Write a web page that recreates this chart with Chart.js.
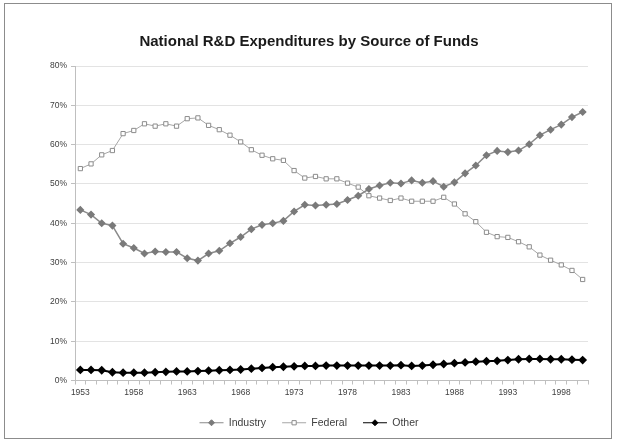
<!DOCTYPE html>
<html>
<head>
<meta charset="utf-8">
<script src="https://cdn.jsdelivr.net/npm/chart.js@4"></script>
<style>
  body { margin: 0; background: #fff; }
  #frame {
    position: absolute; left: 4px; top: 3px;
    width: 606px; height: 434px;
    border: 1px solid #8c8c8c;
  }
</style>
</head>
<body>
<div id="frame"><canvas id="chart" width="606" height="434"></canvas></div>
<script>
// 연도 (1953 ~ 2000)
const years = [];
for (let y = 1953; y <= 2000; y++) years.push(String(y));

// 재원별 비율 (%)
const industry = [
  43.4, 42.2, 40.0, 39.4, 34.8, 33.7, 32.3, 32.8, 32.7, 32.7,
  31.1, 30.5, 32.3, 33.0, 34.9, 36.5, 38.5, 39.6, 40.0, 40.6,
  43.0, 44.7, 44.5, 44.7, 44.9, 45.9, 47.0, 48.7, 49.6, 50.3,
  50.1, 50.9, 50.3, 50.7, 49.3, 50.4, 52.7, 54.7, 57.3, 58.4,
  58.1, 58.5, 60.1, 62.4, 63.8, 65.1, 67.0, 68.3
];
const federal = [
  53.9, 55.1, 57.4, 58.5, 62.8, 63.6, 65.3, 64.7, 65.3, 64.7,
  66.6, 66.8, 64.9, 63.8, 62.4, 60.7, 58.7, 57.3, 56.4, 56.0,
  53.4, 51.5, 51.9, 51.3, 51.3, 50.2, 49.2, 47.0, 46.4, 45.8,
  46.4, 45.6, 45.6, 45.6, 46.6, 44.9, 42.4, 40.4, 37.7, 36.6,
  36.4, 35.3, 34.0, 31.9, 30.6, 29.4, 28.0, 25.7
];
const other = [
  2.7, 2.7, 2.6, 2.1, 2.0, 2.0, 2.0, 2.1, 2.2, 2.3,
  2.3, 2.4, 2.5, 2.6, 2.7, 2.8, 3.0, 3.2, 3.4, 3.5,
  3.6, 3.7, 3.7, 3.8, 3.8, 3.8, 3.8, 3.8, 3.8, 3.8,
  3.9, 3.7, 3.8, 4.0, 4.2, 4.4, 4.6, 4.8, 4.9, 5.0,
  5.2, 5.4, 5.5, 5.5, 5.4, 5.4, 5.3, 5.2
];

// 범례에 선 가운데 마커 그리기
const legendMarkers = {
  id: "legendMarkers",
  afterDraw(chart) {
    const legend = chart.legend;
    if (!legend || !legend.legendHitBoxes) return;
    const ctx = chart.ctx;
    legend.legendHitBoxes.forEach((box, i) => {
      const ds = chart.data.datasets[i];
      const cx = box.left + 12;
      const cy = box.top + box.height / 2;
      ctx.save();
      ctx.fillStyle = ds.pointBackgroundColor;
      ctx.strokeStyle = ds.pointBorderColor;
      ctx.lineWidth = 1;
      Chart.helpers.drawPoint(ctx, {
        pointStyle: ds.pointStyle,
        radius: ds.pointRadius,
        borderWidth: 1
      }, cx, cy);
      ctx.restore();
    });
  }
};

new Chart(document.querySelector("#chart"), {
  type: "line",
  data: {
    labels: years,
    datasets: [{
      label: "Industry",
      data: industry,
      borderColor: "#8a8a8a",
      borderWidth: 1.5,
      pointStyle: "rectRot",
      pointRadius: 3,
      pointBackgroundColor: "#7a7a7a",
      pointBorderColor: "#7a7a7a"
    }, {
      label: "Federal",
      data: federal,
      borderColor: "#a6a6a6",
      borderWidth: 1,
      pointStyle: "rect",
      pointRadius: 3,
      pointBackgroundColor: "#ffffff",
      pointBorderColor: "#8c8c8c"
    }, {
      label: "Other",
      data: other,
      borderColor: "#000000",
      borderWidth: 2,
      pointStyle: "rectRot",
      pointRadius: 3,
      pointBackgroundColor: "#000000",
      pointBorderColor: "#000000"
    }]
  },
  options: {
    responsive: false,
    animation: false,
    layout: { padding: { left: 25, right: 23, top: 0, bottom: 0 } },
    plugins: {
      title: {
        display: true,
        text: "National R&D Expenditures by Source of Funds",
        color: "#1a1a1a",
        font: { family: "Liberation Sans", size: 15, weight: "bold" },
        padding: { top: 29, bottom: 15 }
      },
      legend: {
        position: "bottom",
        labels: {
          color: "#404040",
          font: { family: "Liberation Sans", size: 10.5 },
          boxWidth: 24,
          boxHeight: 1,
          padding: 16,
          generateLabels(chart) {
            return chart.data.datasets.map((ds, i) => ({
              text: ds.label,
              fillStyle: ds.borderColor,
              strokeStyle: ds.borderColor,
              lineWidth: 0,
              fontColor: "#404040",
              datasetIndex: i
            }));
          }
        }
      },
      tooltip: { enabled: false }
    },
    scales: {
      x: {
        offset: true,
        grid: {
          offset: true,
          drawOnChartArea: false,
          drawTicks: true,
          tickLength: 4,
          color: "#bfbfbf"
        },
        border: { color: "#bfbfbf" },
        ticks: {
          autoSkip: false,
          maxRotation: 0,
          color: "#404040",
          font: { family: "Liberation Sans", size: 8.5 },
          padding: 3,
          callback: (v, i) => (i % 5 === 0 ? years[i] : "")
        },
        afterFit: s => { s.height = 21; }
      },
      y: {
        min: 0,
        max: 80,
        grid: {
          color: "#e3e3e3",
          tickLength: 4,
          tickColor: "#bfbfbf"
        },
        border: { color: "#bfbfbf" },
        ticks: {
          stepSize: 10,
          color: "#404040",
          font: { family: "Liberation Sans", size: 8.5 },
          padding: 4,
          callback: v => v + "%"
        },
        afterFit: s => { s.width = 45; }
      }
    }
  },
  plugins: [legendMarkers]
});
</script>
</body>
</html>
